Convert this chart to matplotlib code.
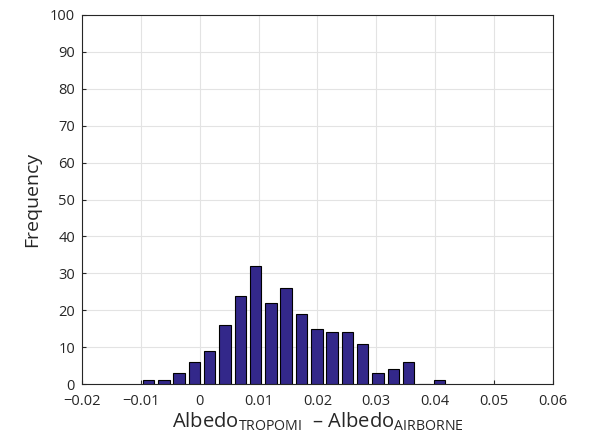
import numpy as np
import matplotlib
matplotlib.use("Agg")
import matplotlib.pyplot as plt

plt.rcParams['font.family'] = ['Open Sans', 'DejaVu Sans']
plt.rcParams['mathtext.fontset'] = 'custom'
plt.rcParams['mathtext.rm'] = 'Open Sans'

# histogram of albedo differences
bin_start = -0.0087
bin_width = 0.0026
counts = [1, 1, 3, 6, 9, 16, 24, 32, 22, 26, 19, 15, 14, 14, 11, 3, 4, 6, 0, 1]
centers = bin_start + bin_width * np.arange(len(counts))

x_ticks = [-0.02, -0.01, 0, 0.01, 0.02, 0.03, 0.04, 0.05, 0.06]
x_labels = ['\u22120.02', '\u22120.01', '0', '0.01', '0.02', '0.03', '0.04', '0.05', '0.06']
y_ticks = list(range(0, 101, 10))

fig = plt.figure(figsize=(5.9, 4.38), dpi=100)
ax = fig.add_axes([0.139, 0.123, 0.798, 0.843])

ax.bar(centers, counts, width=bin_width * 0.75, color='#33288a',
       edgecolor='black', linewidth=0.8, zorder=3)

ax.set_xlim(-0.02, 0.06)
ax.set_ylim(0, 100)
ax.set_xticks(x_ticks)
ax.set_xticklabels(x_labels)
ax.set_yticks(y_ticks)
ax.tick_params(labelsize=10.5, colors='#262626', direction='in', length=3)
ax.tick_params(axis='x', pad=7)
ax.tick_params(axis='y', pad=5)
ax.grid(True, color='#e3e3e3', linewidth=0.8, zorder=0)
for s in ax.spines.values():
    s.set_color('#262626')
    s.set_linewidth(0.8)

ax.set_ylabel('Frequency', fontsize=14, color='#262626', labelpad=6)
ax.set_xlabel('Albedo$_{\\mathrm{TROPOMI}}$  \u2013 Albedo$_{\\mathrm{AIRBORNE}}$',
              fontsize=14.5, color='#262626', labelpad=1)

fig.savefig('out.png', dpi=100)
